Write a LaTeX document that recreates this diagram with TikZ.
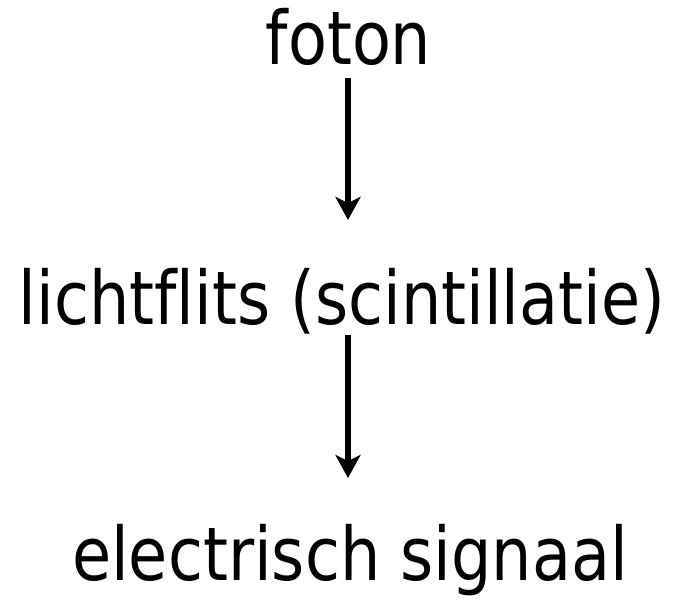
\documentclass[tikz,border=0pt]{standalone}
\usepackage{fontspec}
\setmainfont{DejaVu Sans}[FakeStretch=0.86, Ligatures=NoCommon]
\usetikzlibrary{arrows.meta}
\begin{document}
\begin{tikzpicture}[x=1pt,y=1pt,
  lbl/.style={anchor=base, inner sep=0pt, font=\fontsize{74}{80}\selectfont},
  flow/.style={line width=5.5pt, -{Stealth[length=23pt, width=25pt, inset=6pt]}}]
\useasboundingbox (0,0) rectangle (682,600);
\node[lbl] (foton) at (348.5,535) {foton};
\node[lbl] (licht) at (342,275) {lichtflits (scintillatie)};
\node[lbl] (elec) at (350,20) {electrisch signaal};
\coordinate (a1s) at (348,522);
\coordinate (a1e) at (348,380);
\coordinate (a2s) at (348,265);
\coordinate (a2e) at (348,122);
\draw[flow] (a1s) -- (a1e);
\draw[flow] (a2s) -- (a2e);
\end{tikzpicture}
\end{document}
